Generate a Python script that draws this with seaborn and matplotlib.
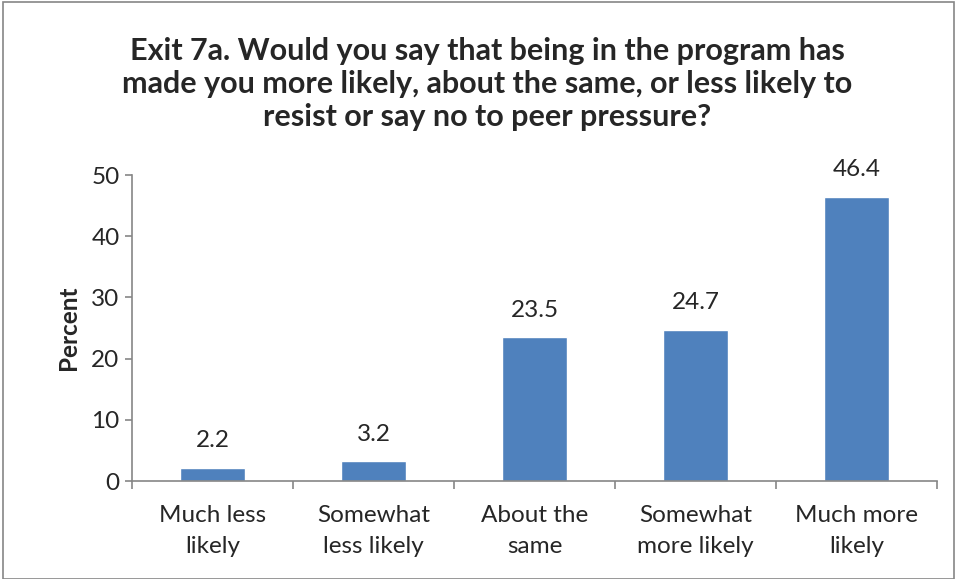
import matplotlib
matplotlib.use("Agg")
import matplotlib.pyplot as plt
import seaborn as sns
import pandas as pd
from matplotlib.patches import Rectangle

categories = ["Much less\nlikely", "Somewhat\nless likely", "About the\nsame", "Somewhat\nmore likely", "Much more\nlikely"]
values = [2.2, 3.2, 23.5, 24.7, 46.4]
yticks = [0, 10, 20, 30, 40, 50]
title = ("Exit 7a. Would you say that being in the program has\n"
         "made you more likely, about the same, or less likely to\n"
         "resist or say no to peer pressure?")

sns.set_style("white")
plt.rcParams['font.family'] = ['Lato', 'DejaVu Sans']

df = pd.DataFrame({"cat": categories, "val": values})

fig = plt.figure(figsize=(9.57, 5.79), dpi=100)
ax = fig.add_axes([132/957, 1-481/579, (937-132)/957, (481-175)/579])
sns.barplot(data=df, x="cat", y="val", color="#4F81BD", saturation=1, width=0.4, ax=ax)

ax.set_xlim(-0.5, 4.5)
ax.set_ylim(0, 50)
ax.set_yticks(yticks)
ax.set_yticklabels([str(t) for t in yticks], fontsize=17.5)
ax.set_xticks(range(len(categories)))
ax.set_xticklabels(categories, fontsize=17.5, linespacing=1.55)
ax.set_xlabel("")
ax.set_ylabel("Percent", fontsize=17.5, fontweight="bold", labelpad=8)

for s in ["top", "right"]:
    ax.spines[s].set_visible(False)
for s in ["left", "bottom"]:
    ax.spines[s].set_color("#868686")
    ax.spines[s].set_linewidth(1.2)

ax.tick_params(axis="y", which="both", left=True, length=5, color="#868686", width=1.2, pad=4)
ax.tick_params(axis="x", which="major", bottom=False, pad=14)
ax.set_xticks([i - 0.5 for i in range(len(categories) + 1)], minor=True)
ax.tick_params(axis="x", which="minor", bottom=True, length=6, color="#868686", width=1.2)

for i, v in enumerate(values):
    ax.annotate(f"{v:.1f}", (i, v), xytext=(0, 12), textcoords="offset points",
                ha="center", va="bottom", fontsize=17.5)

fig.text(487/957, 1-84/579, title, ha="center", va="center", fontsize=22,
         fontweight="bold", linespacing=1.2)

fig.patches.append(Rectangle((3/957, 0), 1-6/957, 1-1.5/579, transform=fig.transFigure,
                             fill=False, edgecolor="#868686", linewidth=1.2))

fig.savefig("out.png", dpi=100)
